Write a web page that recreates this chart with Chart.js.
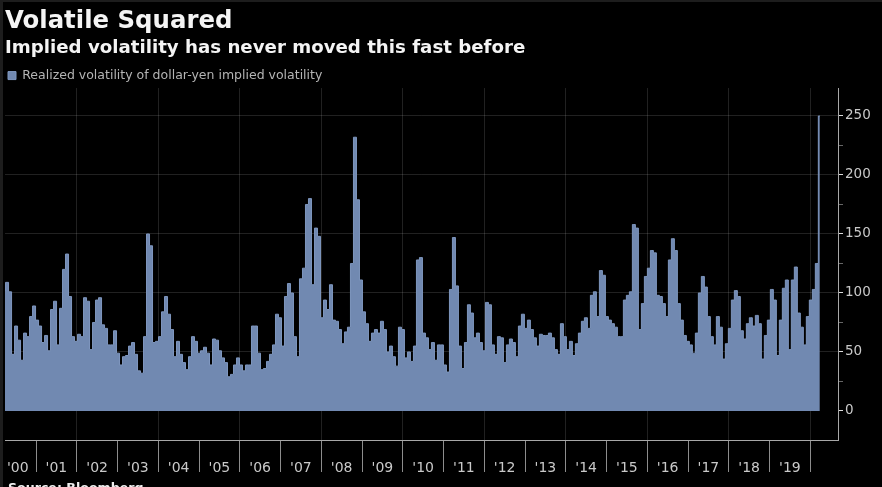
<!DOCTYPE html>
<html>
<head>
<meta charset="utf-8">
<script src="https://cdn.jsdelivr.net/npm/chart.js@4/dist/chart.umd.min.js"></script>
<style>
html,body{margin:0;padding:0;background:#000;overflow:hidden}
#wrap{position:relative;width:882px;height:487px;overflow:hidden;background:#000}
#edgeL{position:absolute;left:0;top:0;width:3px;height:487px;background:#1d1d1d}
#edgeT{position:absolute;left:0;top:0;width:882px;height:2px;background:#1d1d1d}
#source{position:absolute;left:8px;top:480px;font:bold 12.6px "DejaVu Sans";color:#eee;white-space:nowrap}
canvas{position:absolute;left:0;top:0}
</style>
</head>
<body>
<div id="wrap">
<canvas id="c" width="882" height="487"></canvas>
<div id="edgeL"></div><div id="edgeT"></div>
<div id="source">Source: Bloomberg</div>
</div>
<script>
const chartTitle = "Volatile Squared";
const chartSubtitle = "Implied volatility has never moved this fast before";
const seriesName = "Realized volatility of dollar-yen implied volatility";
const yearLabels = ["'00","'01","'02","'03","'04","'05","'06","'07","'08","'09","'10","'11","'12","'13","'14","'15","'16","'17","'18","'19"];
const firstSampleYear = 2000.215;
const yearsPerSample = 0.0736;
const axisStartYear = 2000.238;
const axisEndYear = 2020.68;

const vol2000to2003 = [101,109,101,48,72,60,43,66,63,80,89,77,72,58,64,51,86,93,56,87,120,133,97,63,59,65,63,96,93,52,75,94,96,73,70,56,56,68,49,39,46,47,55,58,48,34,32,63,150,140,58,59,63,84,97,82];
const vol2003to2007 = [69,46,59,48,41,35,46,63,59,49,51,54,49,39,61,60,51,45,41,29,31,39,45,39,34,39,39,72,72,49,35,36,42,48,56,82,79,55,97,108,100,63,46,112,121,175,180,107,155,148];
const vol2007to2011 = [79,94,86,107,77,76,69,57,67,71,125,232,179,111,84,74,59,66,69,66,76,69,50,55,46,38,71,69,45,50,42,55,128,130,66,62,52,58,43,56,56,39,33,103,147,106,55,36,58,90];
const vol2011to2015 = [83,62,66,58,51,92,90,56,48,63,62,41,56,61,58,46,72,82,70,77,69,62,55,65,64,64,66,62,52,48,74,63,52,59,47,57,66,76,79,70,98,101,80,119,115,80,77,74,71,63];
const vol2015to2017 = [63,94,98,101,158,155,69,91,114,121,136,134,98,97,91,80,128,146,136,91,77,64,59,56,49,66,100,114,105,80,63,56,80,71,44,57,70,94,102,97];
const vol2017to2020 = [68,61,74,79,72,81,74,44,64,77,103,94,47,77,104,111,52,111,122,83,71,56,80,94,103,125,250];

const volatility = [...vol2000to2003, ...vol2003to2007, ...vol2007to2011, ...vol2011to2015, ...vol2015to2017, ...vol2017to2020];
const points = volatility.map((v, i) => ({x: firstSampleYear + i * yearsPerSample, y: v}));

const axisColor = "#a8a8a8";
const gridColor = "rgba(255,255,255,0.13)";
const textColor = "#c9c9c9";
const labelOffsetFirstYear = 2000.55;

const trimLegend = {
  id: "trimLegend",
  beforeLayout(chart) {
    const lg = chart.legend;
    if (lg && !lg.trimmed) {
      lg.trimmed = true;
      const fit = lg.fit;
      lg.fit = function () { fit.call(this); this.height -= 3.8; };
    }
  }
};

new Chart(document.getElementById("c"), {
  type: "line",
  plugins: [trimLegend],
  data: {datasets: [{
    label: seriesName,
    data: points,
    parsing: false,
    borderColor: "#7f97bf",
    borderWidth: 1,
    backgroundColor: "#7189b1",
    fill: "origin",
    pointRadius: 0,
    stepped: "middle"
  }]},
  options: {
    responsive: false,
    animation: false,
    layout: {padding: {left: 5, right: 0, top: 0, bottom: 0}},
    plugins: {
      tooltip: {enabled: false},
      title: {display: true, text: chartTitle, align: "start", color: "#f4f4f4",
        font: {family: "DejaVu Sans", size: 24.4, weight: "bold", lineHeight: 1.2}, padding: {top: 7, bottom: 0}},
      subtitle: {display: true, text: chartSubtitle, align: "start", color: "#f4f4f4",
        font: {family: "DejaVu Sans", size: 18.2, weight: "bold", lineHeight: 1.2}, padding: {top: 1, bottom: 7.2}},
      legend: {display: true, position: "top", align: "start",
        labels: {color: "#b4b4b4", boxWidth: 8, boxHeight: 8, padding: 3,
          font: {family: "DejaVu Sans", size: 12.5}}}
    },
    scales: {
      x: {
        type: "linear", min: axisStartYear, max: axisEndYear, position: "bottom",
        afterFit(s) { s.height = 47; },
        afterBuildTicks(s) {
          const t = [{value: labelOffsetFirstYear}];
          for (let y = 2001; y <= 2020; y++) {
            t.push({value: y});
            if (y < 2020) t.push({value: y + 0.5});
          }
          s.ticks = t;
        },
        border: {display: true, color: axisColor, width: 1},
        grid: {
          tickLength: 32,
          color: c => (Number.isInteger(c.tick.value) && c.tick.value % 2 === 0) ? gridColor : "transparent",
          tickColor: c => Number.isInteger(c.tick.value) ? "#8c8c8c" : "transparent"
        },
        ticks: {
          autoSkip: false, maxRotation: 0, minRotation: 0, padding: -12, color: textColor,
          font: {family: "DejaVu Sans", size: 14},
          callback: v => Number.isInteger(v) ? "" : yearLabels[Math.floor(v) - 2000]
        }
      },
      y: {
        type: "linear", min: -24.6, max: 273.7, position: "right",
        afterFit(s) { s.width = 44; },
        afterBuildTicks(s) {
          const t = [];
          for (let v = 0; v <= 250; v += 25) t.push({value: v});
          s.ticks = t;
        },
        border: {display: true, color: axisColor, width: 1},
        grid: {
          tickLength: 5,
          color: c => (c.tick.value % 50 === 0 && c.tick.value > 0) ? gridColor : "transparent",
          tickColor: c => c.tick.value % 50 === 0 ? "#dddddd" : "#666666"
        },
        ticks: {
          autoSkip: false, padding: 2, color: textColor,
          font: {family: "DejaVu Sans", size: 13.5},
          callback: v => v % 50 === 0 ? String(v) : ""
        }
      }
    }
  }
});
</script>
</body>
</html>
